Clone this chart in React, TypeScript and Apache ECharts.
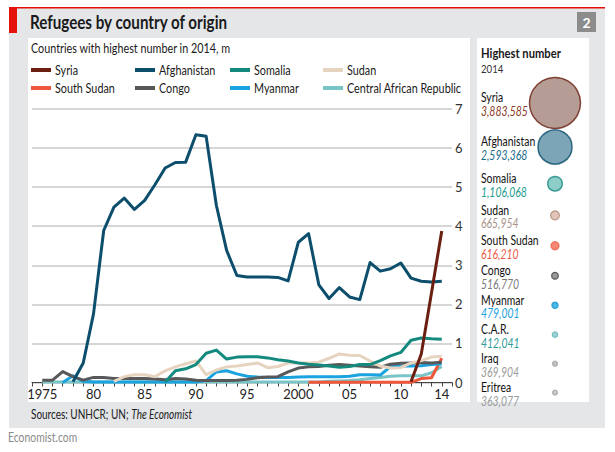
import React, { useEffect, useRef } from "react";
import * as echarts from "echarts";

const FONT = 'Lato, "Noto Sans", sans-serif';
const SX = 0.8; // horizontal squeeze to mimic the narrow house font

const years = [
  1975, 1976, 1977, 1978, 1979, 1980, 1981, 1982, 1983, 1984,
  1985, 1986, 1987, 1988, 1989, 1990, 1991, 1992, 1993, 1994,
  1995, 1996, 1997, 1998, 1999, 2000, 2001, 2002, 2003, 2004,
  2005, 2006, 2007, 2008, 2009, 2010, 2011, 2012, 2013, 2014,
];

const syria = [
  null, null, null, null, null, null, null, null, null, null,
  null, null, null, null, null, null, null, null, null, null,
  null, null, null, null, null, null, null, null, null, null,
  null, null, null, null, null, null, 0.02, 0.73, 2.3, 3.88,
];
const afghanistan = [
  null, null, null, 0.02, 0.5, 1.75, 3.89, 4.49, 4.72, 4.43,
  4.66, 5.06, 5.49, 5.63, 5.64, 6.34, 6.3, 4.53, 3.38, 2.74,
  2.7, 2.7, 2.7, 2.69, 2.6, 3.59, 3.81, 2.5, 2.15, 2.43,
  2.19, 2.12, 3.07, 2.85, 2.91, 3.06, 2.67, 2.59, 2.57, 2.59,
];
const somalia = [
  null, null, null, null, null, null, null, null, null, null,
  null, null, 0.01, 0.3, 0.35, 0.46, 0.75, 0.83, 0.6, 0.65,
  0.66, 0.66, 0.63, 0.58, 0.55, 0.5, 0.47, 0.45, 0.42, 0.39,
  0.41, 0.46, 0.46, 0.56, 0.68, 0.77, 1.08, 1.14, 1.12, 1.11,
];
const sudan = [
  null, null, null, null, null, null, null, 0.03, 0.15, 0.2,
  0.2, 0.15, 0.3, 0.4, 0.48, 0.55, 0.2, 0.32, 0.4, 0.42,
  0.46, 0.5, 0.38, 0.41, 0.5, 0.5, 0.5, 0.52, 0.62, 0.73,
  0.7, 0.69, 0.55, 0.42, 0.37, 0.38, 0.5, 0.56, 0.65, 0.67,
];
const southSudan = [
  null, null, null, null, null, null, null, null, null, null,
  null, null, null, null, null, null, null, null, null, null,
  null, null, null, null, null, null, 0.005, 0.005, 0.005, 0.005,
  0.005, 0.005, 0.005, 0.005, 0.005, 0.005, 0.005, 0.1, 0.12, 0.62,
];
const congo = [
  0.06, 0.06, 0.28, 0.15, 0.06, 0.13, 0.13, 0.1, 0.1, 0.1,
  0.1, 0.09, 0.07, 0.1, 0.09, 0.06, 0.05, 0.05, 0.05, 0.06,
  0.08, 0.12, 0.14, 0.15, 0.27, 0.37, 0.4, 0.41, 0.44, 0.46,
  0.44, 0.42, 0.4, 0.39, 0.47, 0.49, 0.5, 0.51, 0.5, 0.52,
];
const myanmar = [
  null, null, 0.0, 0.17, 0.03, 0.01, 0.01, 0.01, 0.01, 0.01,
  0.01, 0.01, 0.01, 0.01, 0.01, 0.01, 0.05, 0.27, 0.3, 0.22,
  0.16, 0.14, 0.13, 0.13, 0.13, 0.14, 0.15, 0.15, 0.15, 0.15,
  0.16, 0.2, 0.2, 0.19, 0.41, 0.42, 0.42, 0.43, 0.46, 0.48,
];
const car = [
  0.01, 0.01, 0.01, 0.01, 0.01, 0.01, 0.01, 0.01, 0.01, 0.01,
  0.01, 0.01, 0.01, 0.01, 0.01, 0.01, 0.01, 0.01, 0.01, 0.01,
  0.01, 0.01, 0.01, 0.01, 0.01, 0.01, 0.01, 0.01, 0.03, 0.04,
  0.05, 0.07, 0.1, 0.13, 0.16, 0.17, 0.17, 0.17, 0.25, 0.41,
];

const yTicks = [0, 1, 2, 3, 4, 5, 6, 7];
const xLabelYears = [1975, 1980, 1985, 1990, 1995, 2000, 2005, 2010, 2014];
const xLabelText = ["1975", "80", "85", "90", "95", "2000", "05", "10", "14"];

const legendRows = [
  ["Syria", "Afghanistan", "Somalia", "Sudan"],
  ["South Sudan", "Congo", "Myanmar", "Central African Republic"],
];

const bubbleNames = ["Syria", "Afghanistan", "Somalia", "Sudan", "South Sudan", "Congo", "Myanmar", "C.A.R.", "Iraq", "Eritrea"];
const bubbleValues = [3883585, 2593368, 1106068, 665954, 616210, 516770, 479001, 412041, 369904, 363077];

// styles
const lineSeries = [
  { name: "Central African Republic", data: car, color: "#79c4c7" },
  { name: "South Sudan", data: southSudan, color: "#f0563a" },
  { name: "Myanmar", data: myanmar, color: "#1ba3df" },
  { name: "Congo", data: congo, color: "#585858" },
  { name: "Sudan", data: sudan, color: "#e7d4c0" },
  { name: "Somalia", data: somalia, color: "#148a7f" },
  { name: "Afghanistan", data: afghanistan, color: "#0c4e6b" },
  { name: "Syria", data: syria, color: "#6a1f10" },
];
const bubbleFill = ["#a3857c", "#5c8fa6", "#72c2bc", "#d9b6a8", "#f26b50", "#7f7f7f", "#1ca8e3", "#80c6c8", "#b3b3b3", "#b8b8b8"];
const bubbleStroke = ["#6a1f10", "#0c4e6b", "#148a7f", "#a9826e", "#e85a3e", "#3c3c3c", "#1590c8", "#63b4b6", "#a0a0a0", "#a5a5a5"];
const valueColor = ["#8a3a28", "#1c6a8a", "#1d9a8e", "#a8948a", "#ee5a3f", "#7a7a7a", "#1aa2df", "#2f9a98", "#9b9b9b", "#9b9b9b"];

const fmt = (n: number) => n.toLocaleString("en-US");

const txt = (x: number, y: number, text: string, size: number, extra: any = {}) => ({
  type: "text",
  z: 10,
  x,
  y,
  scaleX: SX,
  style: { text, fill: "#1a1a1a", fontFamily: FONT, fontSize: size, verticalAlign: "middle", ...extra },
});

export default function App() {
  const ref = useRef<HTMLDivElement>(null);
  useEffect(() => {
    const chart = echarts.init(ref.current!, null, { renderer: "svg" });

    const maxV = Math.max(...bubbleValues);
    const radii = bubbleValues.map((v) => (v / maxV) * 25.5);
    const ys: number[] = [];
    radii.forEach((r, i) => {
      ys.push(i === 0 ? 103 : ys[i - 1] + 27 + 0.4 * (radii[i - 1] + r));
    });
    const bubbleX = 555;
    const labelX = 481;

    const legendCols = [31, 135, 230, 323];
    const legendRowY = [70, 88];
    const colorOf = (name: string) => lineSeries.find((s) => s.name === name)!.color;
    const legendEls: any[] = [];
    legendRows.forEach((row, r) =>
      row.forEach((name, c) => {
        legendEls.push({
          type: "rect",
          z: 10,
          shape: { x: legendCols[c], y: legendRowY[r] - 2, width: 20, height: 4 },
          style: { fill: colorOf(name) },
        });
        legendEls.push(txt(legendCols[c] + 24, legendRowY[r], name, 13.5));
      })
    );

    const bubbleLabelEls: any[] = [];
    bubbleNames.forEach((n, i) => {
      bubbleLabelEls.push(txt(labelX, ys[i] - 5.5, n, 13, { fill: "#111111" }));
      bubbleLabelEls.push(txt(labelX, ys[i] + 8, fmt(bubbleValues[i]), 13, { fill: valueColor[i], fontStyle: "italic" }));
    });

    const option: any = {
      animation: false,
      textStyle: { fontFamily: FONT },
      graphic: [
        { type: "rect", z: -20, shape: { x: 9, y: 8, width: 596, height: 420 }, style: { fill: "#e4e6e8" } },
        { type: "rect", z: -19, shape: { x: 9, y: 7, width: 596, height: 1.5 }, style: { fill: "#e3120b" } },
        { type: "rect", z: -19, shape: { x: 9, y: 8, width: 8, height: 25 }, style: { fill: "#e3120b" } },
        { type: "rect", z: -19, shape: { x: 28, y: 38, width: 442, height: 364 }, style: { fill: "#ffffff" } },
        { type: "rect", z: -19, shape: { x: 477, y: 38, width: 112, height: 364 }, style: { fill: "#ffffff" } },
        { type: "rect", z: -19, shape: { x: 577, y: 12, width: 19, height: 20 }, style: { fill: "#8c8c8c" } },
        { type: "text", z: 10, x: 586.5, y: 22, style: { text: "2", fill: "#ffffff", fontFamily: FONT, fontSize: 14, fontWeight: "bold", align: "center", verticalAlign: "middle" } },
        txt(30, 22, "Refugees by country of origin", 19, { fontWeight: "bold" }),
        txt(31, 48, "Countries with highest number in 2014, m", 13.5),
        txt(481, 52, "Highest number", 14, { fontWeight: "bold" }),
        txt(481, 68, "2014", 12, { fill: "#333333" }),
        {
          type: "text", z: 10, x: 31, y: 414, scaleX: SX,
          style: {
            text: "{a|Sources: UNHCR; UN; }{b|The Economist}",
            verticalAlign: "middle",
            rich: {
              a: { fontFamily: FONT, fontSize: 12.5, fill: "#222222" },
              b: { fontFamily: FONT, fontSize: 12.5, fontStyle: "italic", fill: "#222222" },
            },
          },
        },
        txt(8, 437, "Economist.com", 13, { fill: "#8a8a8a" }),
        ...legendEls,
        ...bubbleLabelEls,
      ],
      grid: [
        { left: 32, right: 163, top: 109, bottom: 69.5 },
        { left: 0, right: 0, top: 0, bottom: 0 },
      ],
      xAxis: [
        {
          gridIndex: 0,
          type: "value",
          min: 1974,
          max: 2015,
          interval: 1,
          splitLine: { show: false },
          axisLine: { show: true, onZero: false, lineStyle: { color: "#444444", width: 1 } },
          axisTick: { show: true, length: 4, lineStyle: { color: "#444444" } },
          axisLabel: {
            margin: 5,
            fontFamily: FONT,
            fontSize: 13,
            color: "#222222",
            showMinLabel: true,
            showMaxLabel: true,
            formatter: (v: number) => {
              const k = xLabelYears.indexOf(Math.round(v));
              return k >= 0 ? xLabelText[k] : "";
            },
          },
        },
        { gridIndex: 1, type: "value", min: 0, max: 615, show: false },
      ],
      yAxis: [
        {
          gridIndex: 0,
          type: "value",
          position: "right",
          min: yTicks[0],
          max: yTicks[yTicks.length - 1],
          interval: 1,
          axisLine: { show: false },
          axisTick: { show: false },
          splitLine: { show: true, lineStyle: { color: "#c9c9c9", width: 1.5 } },
          axisLabel: { margin: 3, fontFamily: FONT, fontSize: 13, color: "#333333" },
        },
        { gridIndex: 1, type: "value", min: 0, max: 452, inverse: true, show: false },
      ],
      series: [
        ...lineSeries.map((s) => ({
          type: "line",
          name: s.name,
          xAxisIndex: 0,
          yAxisIndex: 0,
          data: years
            .map((y, i) => [y, s.data[i]])
            .filter((d) => d[1] !== null),
          showSymbol: false,
          symbol: "none",
          silent: true,
          color: s.color,
          lineStyle: { color: s.color, width: 3, join: "round" },
        })),
        {
          type: "scatter",
          name: "bubbles",
          xAxisIndex: 1,
          yAxisIndex: 1,
          silent: true,
          data: bubbleValues.map((v, i) => ({
            value: [bubbleX, ys[i]],
            symbolSize: Math.max(2 * radii[i], 5),
            itemStyle: { color: bubbleFill[i], borderColor: bubbleStroke[i], borderWidth: i < 3 ? 1.5 : 1.2 },
          })),
        },
      ],
    };
    chart.setOption(option);
    return () => chart.dispose();
  }, []);
  return <div ref={ref} style={{ position: "absolute", left: 0, top: 0, width: 615, height: 452 }} />;
}
